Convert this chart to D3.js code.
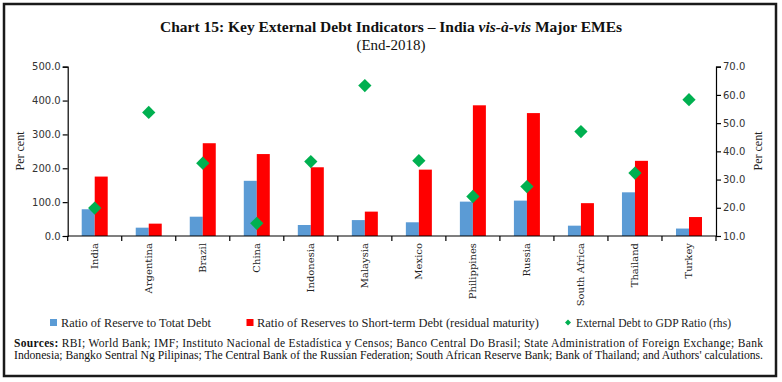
<!DOCTYPE html>
<html><head><meta charset="utf-8">
<script src="https://cdn.jsdelivr.net/npm/d3@7"></script>
<style>
html,body{margin:0;padding:0;background:#fff;}
svg{display:block;}
</style></head>
<body>
<script>
const categories = ["India","Argentina","Brazil","China","Indonesia","Malaysia","Mexico","Philippines","Russia","South Africa","Thailand","Turkey"];
const reserveToTotal = [79, 24.6, 57, 163, 32.5, 47, 40.5, 101.5, 104.5, 30.5, 129, 22];
const reserveToShortTerm = [175.5, 36.5, 274, 242, 203, 72, 196, 386, 363, 97, 222, 56];
const debtToGDP = [19.9, 53.8, 35.8, 14.5, 36.4, 63.3, 36.7, 24.0, 27.5, 47.0, 32.3, 58.3];
const leftTicks = [0, 100, 200, 300, 400, 500];
const rightTicks = [10, 20, 30, 40, 50, 60, 70];
const seriesNames = ["Ratio of Reserve to Totat Debt", "Ratio of Reserves to Short-term Debt (residual maturity)", "External Debt to GDP Ratio (rhs)"];

(function () {
const W = 782, H = 382;
const colors = {blue: "#5B9BD5", red: "#FF0000", green: "#00B050"};
const svg = d3.select("body").append("svg").attr("width", W).attr("height", H);

// frame
svg.append("rect").attr("x", 4).attr("y", 4).attr("width", 772).attr("height", 372)
  .attr("fill", "none").attr("stroke", "#1a1a1a").attr("stroke-width", 2.5);

// title
const title = svg.append("text").attr("x", 391).attr("y", 32).attr("text-anchor", "middle")
  .attr("font-family", "Liberation Serif").attr("font-weight", "bold").attr("font-size", 15.5).attr("fill", "#111");
title.append("tspan").text("Chart 15: Key External Debt Indicators – India ");
title.append("tspan").attr("font-style", "italic").text("vis-à-vis");
title.append("tspan").text(" Major EMEs");
svg.append("text").attr("x", 391).attr("y", 49.5).attr("text-anchor", "middle")
  .attr("font-family", "Liberation Serif").attr("font-size", 15).attr("fill", "#111").text("(End-2018)");

const pl = 67.7, pr = 716, pt = 66.7, pb = 236;
const x = d3.scaleBand().domain(categories).range([pl, pr]).paddingInner(0).paddingOuter(0);
const bw = x.bandwidth();
const x1 = d3.scaleBand().domain(["total", "short"]).range([bw / 2 - 13, bw / 2 + 13]).padding(0);
const yL = d3.scaleLinear().domain([0, 500]).range([pb, pt]);
const yR = d3.scaleLinear().domain([10, 70]).range([pb, pt]);

// bars
const g = svg.append("g");
categories.forEach((c, i) => {
  g.append("rect").attr("x", x(c) + x1("total")).attr("width", x1.bandwidth())
    .attr("y", yL(reserveToTotal[i])).attr("height", yL(0) - yL(reserveToTotal[i])).attr("fill", colors.blue);
  g.append("rect").attr("x", x(c) + x1("short")).attr("width", x1.bandwidth())
    .attr("y", yL(reserveToShortTerm[i])).attr("height", yL(0) - yL(reserveToShortTerm[i])).attr("fill", colors.red);
});

// diamonds
const diamond = d3.symbol().type(d3.symbolSquare).size(88);
categories.forEach((c, i) => {
  g.append("path").attr("d", diamond())
    .attr("transform", `translate(${x(c) + bw / 2},${yR(debtToGDP[i])}) rotate(45)`)
    .attr("fill", colors.green);
});

// axes
const fmt = d3.format(".1f");
const axL = svg.append("g").attr("transform", `translate(${pl},0)`)
  .call(d3.axisLeft(yL).tickValues(leftTicks).tickFormat(fmt).tickSizeOuter(0).tickSize(5).tickPadding(2));
const axR = svg.append("g").attr("transform", `translate(${pr},0)`)
  .call(d3.axisRight(yR).tickValues(rightTicks).tickFormat(fmt).tickSizeOuter(0).tickSize(5).tickPadding(2));
[axL, axR].forEach(a => {
  a.select(".domain").attr("stroke", "#000").attr("stroke-width", 1.2);
  a.selectAll(".tick line").attr("stroke", "#000").attr("stroke-width", 1.2);
  a.selectAll("text").attr("font-family", "DejaVu Sans").attr("font-size", 10).attr("fill", "#333");
});

// bottom axis: line + boundary ticks
const axB = svg.append("g");
axB.append("line").attr("x1", pl).attr("x2", pr).attr("y1", pb).attr("y2", pb)
  .attr("stroke", "#000").attr("stroke-width", 1.2);
const bounds = categories.map(c => x(c)).concat([x(categories[categories.length - 1]) + bw]);
axB.selectAll("line.tk").data(bounds).join("line").attr("class", "tk")
  .attr("x1", d => d).attr("x2", d => d).attr("y1", pb).attr("y2", pb + 5)
  .attr("stroke", "#000").attr("stroke-width", 1.2);
axB.selectAll("text.lbl").data(categories).join("text").attr("class", "lbl")
  .attr("transform", d => `translate(${x(d) + bw / 2},243) rotate(-90)`)
  .attr("dy", "0.35em").attr("text-anchor", "end")
  .attr("font-family", "DejaVu Serif").attr("font-size", 10).attr("fill", "#222")
  .text(d => d);

// axis titles
svg.append("text").attr("transform", "translate(20,151) rotate(-90)").attr("dy", "0.35em")
  .attr("text-anchor", "middle").attr("font-family", "Liberation Serif").attr("font-size", 12).attr("fill", "#222").text("Per cent");
svg.append("text").attr("transform", "translate(758,151) rotate(-90)").attr("dy", "0.35em")
  .attr("text-anchor", "middle").attr("font-family", "Liberation Serif").attr("font-size", 12).attr("fill", "#222").text("Per cent");

// legend
const leg = svg.append("g").attr("font-family", "Liberation Serif").attr("font-size", 12).attr("fill", "#222");
leg.append("rect").attr("x", 50).attr("y", 319).attr("width", 7).attr("height", 7).attr("fill", colors.blue);
leg.append("text").attr("x", 61).attr("y", 326.5).attr("textLength", 150).attr("lengthAdjust", "spacingAndGlyphs").text(seriesNames[0]);
leg.append("rect").attr("x", 246.5).attr("y", 319).attr("width", 7).attr("height", 7).attr("fill", colors.red);
leg.append("text").attr("x", 257).attr("y", 326.5).attr("textLength", 282).attr("lengthAdjust", "spacingAndGlyphs").text(seriesNames[1]);
leg.append("path").attr("d", d3.symbol().type(d3.symbolSquare).size(18)())
  .attr("transform", "translate(568,322.5) rotate(45)").attr("fill", colors.green);
leg.append("text").attr("x", 576).attr("y", 326.5).attr("textLength", 155).attr("lengthAdjust", "spacingAndGlyphs").text(seriesNames[2]);

// sources
const src = svg.append("g").attr("font-family", "Liberation Serif").attr("font-size", 11.5).attr("fill", "#111");
const s1 = src.append("text").attr("x", 14).attr("y", 346.5).attr("textLength", 749).attr("lengthAdjust", "spacing");
s1.append("tspan").attr("font-weight", "bold").text("Sources:");
s1.append("tspan").text(" RBI; World Bank; IMF; Instituto Nacional de Estadística y Censos; Banco Central Do Brasil; State Administration of Foreign Exchange; Bank");
src.append("text").attr("x", 14).attr("y", 359).attr("textLength", 749).attr("lengthAdjust", "spacingAndGlyphs")
  .text("Indonesia; Bangko Sentral Ng Pilipinas; The Central Bank of the Russian Federation; South African Reserve Bank; Bank of Thailand; and Authors' calculations.");
})();
</script>
</body></html>
